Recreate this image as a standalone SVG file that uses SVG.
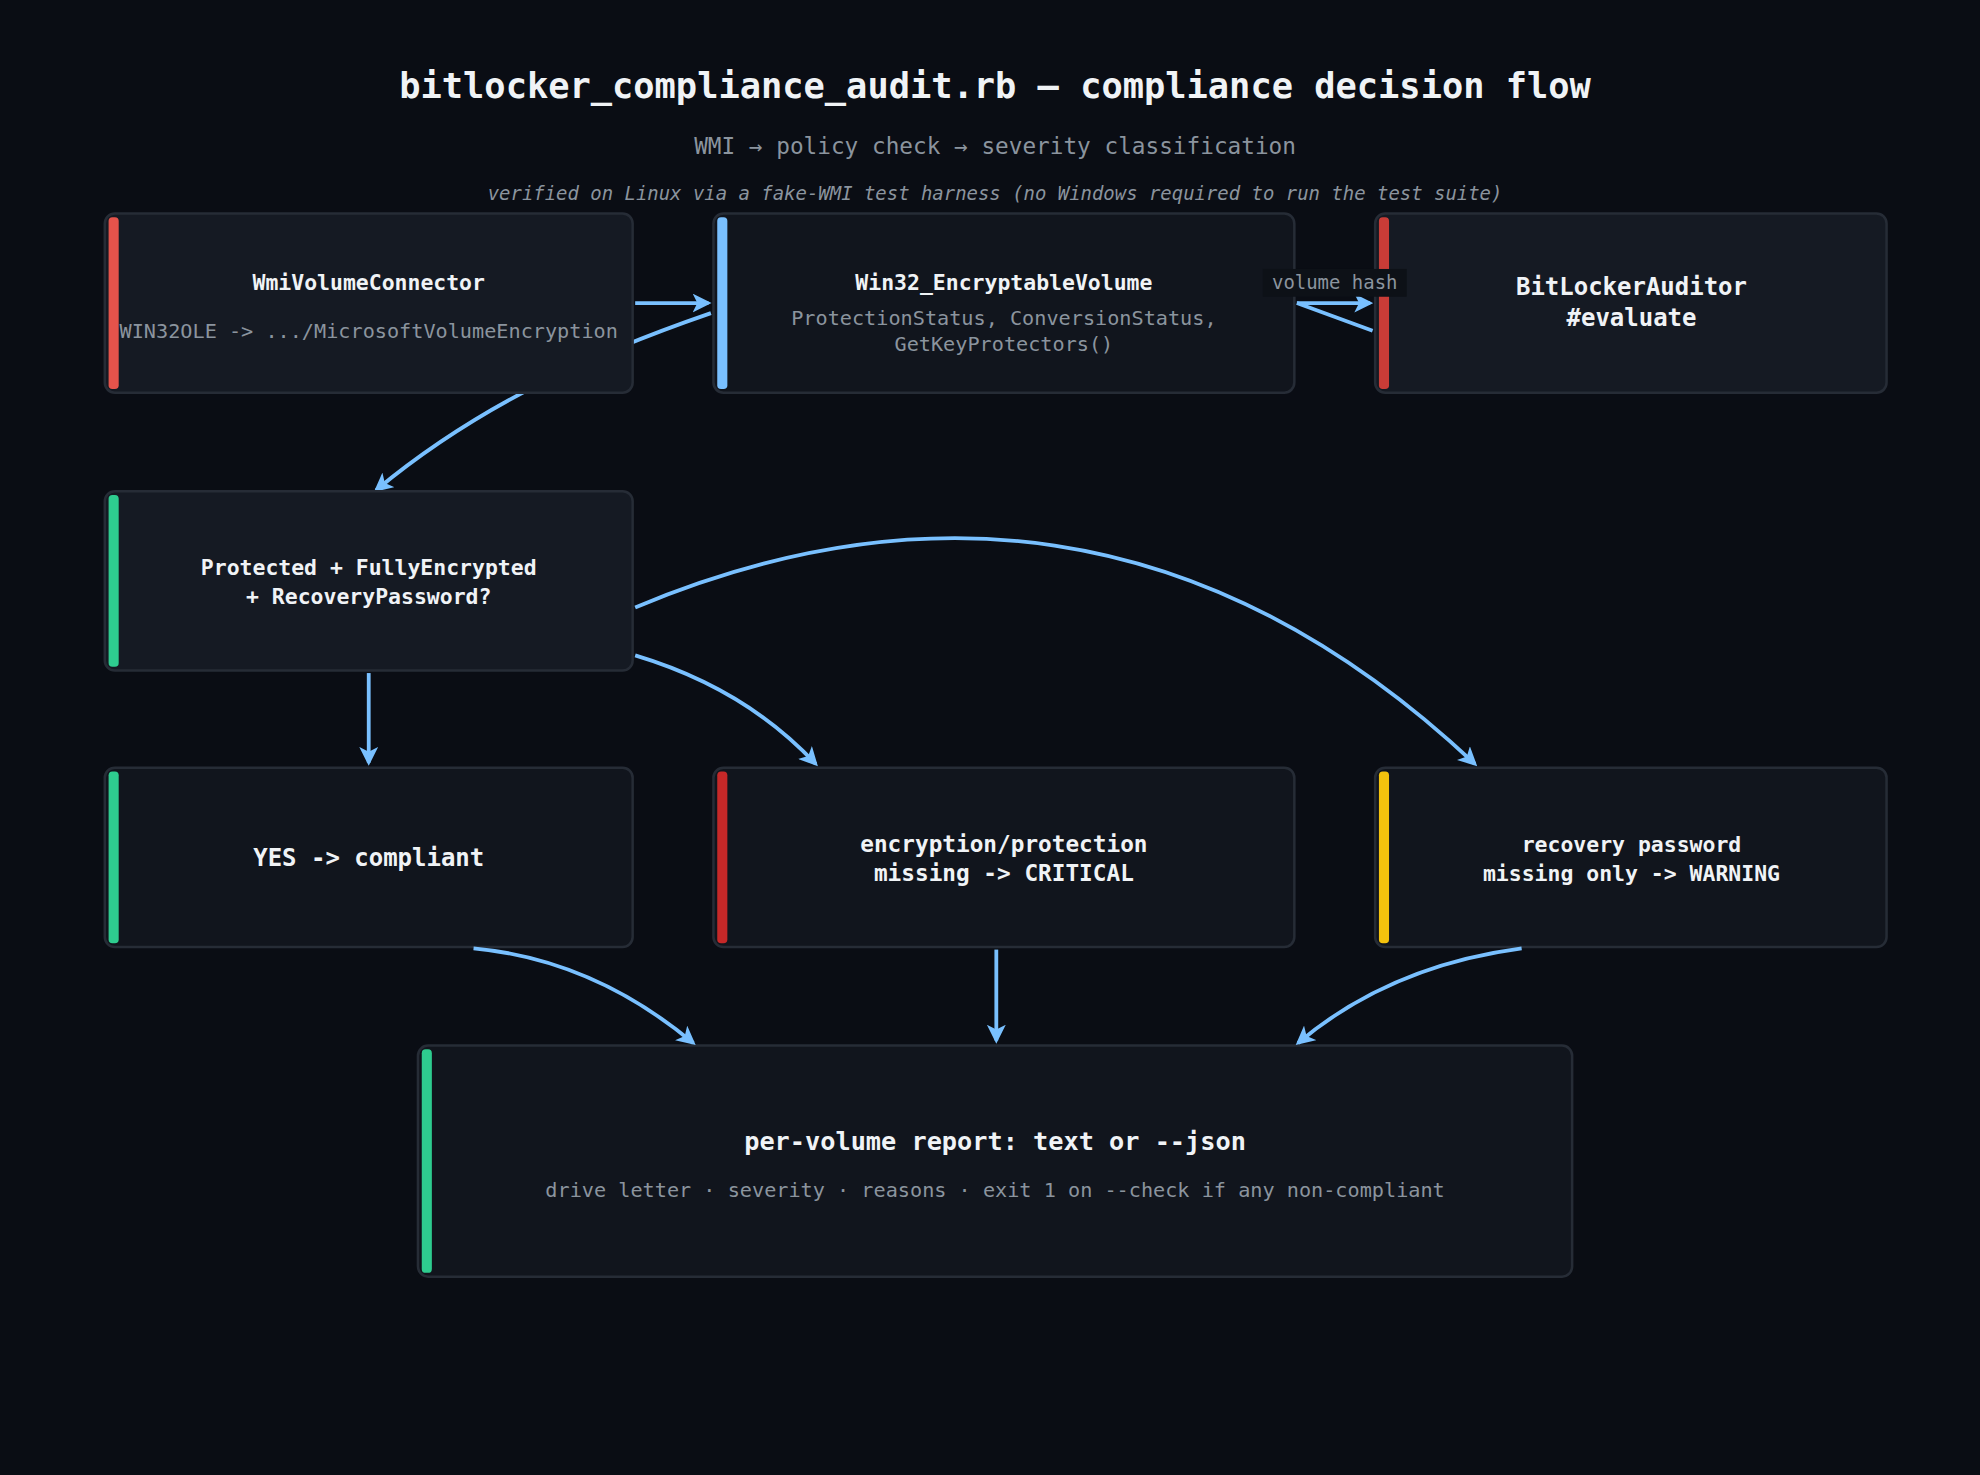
<svg xmlns="http://www.w3.org/2000/svg" width="1980" height="1475" viewBox="0 0 1980 1475">
<style>
.t{font-family:"DejaVu Sans Mono","Liberation Mono",monospace;text-anchor:middle}
.b{font-weight:bold;fill:#f0f3f6}
.s{fill:#8b949e}
.box{stroke:#262c36;stroke-width:2}
.e{fill:none;stroke:#79c0ff;stroke-width:3}
.a{marker-end:url(#ah)}
</style>
<defs>
<marker id="ah" viewBox="0 0 12 12" refX="10" refY="6" markerWidth="5" markerHeight="5" orient="auto" markerUnits="strokeWidth">
<path d="M0,0 L12,6 L0,12 L3,6 Z" fill="#79c0ff"/>
</marker>
</defs>
<rect width="1980" height="1475" fill="#0a0d14"/>
<g transform="scale(1.26276)">
<g id="title">
<text class="t b" x="788" y="78" font-size="28">bitlocker_compliance_audit.rb — compliance decision flow</text>
<text class="t s" x="788" y="122" font-size="18">WMI → policy check → severity classification</text>
<text class="t s" x="788" y="158" font-size="15" font-style="italic">verified on Linux via a fake-WMI test harness (no Windows required to run the test suite)</text>
</g>
<g id="connectors">
<path class="e" d="M563,248 C470,280 380,320 298,388" marker-end="url(#ah)"/>
<path class="e" d="M1027,240 L1087,262"/>
</g>
<g id="n-wmi"><rect class="box" x="83" y="169" width="418" height="142" rx="8" fill="#151a23"/><rect x="86" y="172" width="8" height="136" rx="3" fill="#e5534b"/>
<text class="t b" x="292" y="230" font-size="17">WmiVolumeConnector</text>
<text class="t s" x="292" y="268" font-size="16">WIN32OLE -&gt; .../MicrosoftVolumeEncryption</text></g>
<g id="n-win32"><rect class="box" x="565" y="169" width="460" height="142" rx="8" fill="#11151d"/><rect x="568" y="172" width="8" height="136" rx="3" fill="#79c0ff"/>
<text class="t b" x="795" y="230" font-size="17">Win32_EncryptableVolume</text>
<text class="t s" x="795" y="257" font-size="16">ProtectionStatus, ConversionStatus,</text>
<text class="t s" x="795" y="278" font-size="16">GetKeyProtectors()</text></g>
<g id="n-auditor"><rect class="box" x="1089" y="169" width="405" height="142" rx="8" fill="#151a23"/><rect x="1092" y="172" width="8" height="136" rx="3" fill="#c93c37"/>
<text class="t b" x="1292" y="234" font-size="19">BitLockerAuditor</text>
<text class="t b" x="1292" y="258" font-size="19">#evaluate</text></g>
<g id="n-check"><rect class="box" x="83" y="389" width="418" height="142" rx="8" fill="#151a23"/><rect x="86" y="392" width="8" height="136" rx="3" fill="#2ecc8f"/>
<text class="t b" x="292" y="455" font-size="17">Protected + FullyEncrypted</text>
<text class="t b" x="292" y="478" font-size="17">+ RecoveryPassword?</text></g>
<g id="n-yes"><rect class="box" x="83" y="608" width="418" height="142" rx="8" fill="#11151d"/><rect x="86" y="611" width="8" height="136" rx="3" fill="#2ecc8f"/>
<text class="t b" x="292" y="686" font-size="19">YES -&gt; compliant</text></g>
<g id="n-critical"><rect class="box" x="565" y="608" width="460" height="142" rx="8" fill="#11151d"/><rect x="568" y="611" width="8" height="136" rx="3" fill="#c62828"/>
<text class="t b" x="795" y="675" font-size="18">encryption/protection</text>
<text class="t b" x="795" y="698" font-size="18">missing -&gt; CRITICAL</text></g>
<g id="n-warning"><rect class="box" x="1089" y="608" width="405" height="142" rx="8" fill="#11151d"/><rect x="1092" y="611" width="8" height="136" rx="3" fill="#f4c20d"/>
<text class="t b" x="1292" y="675" font-size="17">recovery password</text>
<text class="t b" x="1292" y="698" font-size="17">missing only -&gt; WARNING</text></g>
<g id="n-report"><rect class="box" x="331" y="828" width="914" height="183" rx="8" fill="#11151d"/><rect x="334" y="831" width="8" height="177" rx="3" fill="#2ecc8f"/>
<text class="t b" x="788" y="911" font-size="20">per-volume report: text or --json</text>
<text class="t s" x="788" y="948" font-size="16">drive letter · severity · reasons · exit 1 on --check if any non-compliant</text></g>
<g id="connectors-top">
<path class="e a" d="M503,240 L561,240"/>
<path class="e a" d="M1027,240 L1085,240"/>
<rect x="1000" y="213" width="114" height="22" fill="#0d1117"/>
<text class="t s" x="1057" y="229" font-size="15">volume hash</text>
<path class="e a" d="M503,481 C720,390 950,400 1168,605"/>
<path class="e a" d="M503,519 Q590,545 646,605"/>
<path class="e a" d="M292,533 L292,604"/>
<path class="e" d="M375,751 Q470,760 549,826" marker-end="url(#ah)"/>
<path class="e a" d="M789,752 L789,824"/>
<path class="e a" d="M1205,751 Q1100,765 1028,826"/>
</g>
</g>
</svg>
